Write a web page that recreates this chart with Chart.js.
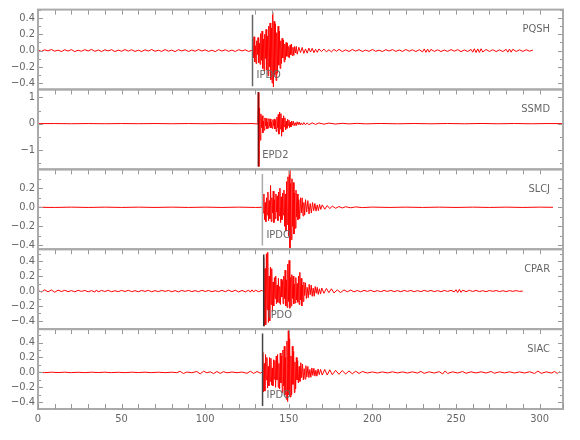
<!DOCTYPE html>
<html>
<head>
<meta charset="utf-8">
<script src="https://cdn.jsdelivr.net/npm/chart.js@4.4.1/dist/chart.umd.min.js"></script>
<style>
  html, body { margin: 0; padding: 0; background: #fff; }
</style>
</head>
<body>
<canvas id="seis" width="580" height="440"></canvas>
<script>
// stations, top panel first
const stations = ['PQSH', 'SSMD', 'SLCJ', 'CPAR', 'SIAC'];
// amplitude range shown in each panel
const yMin = [-0.48, -1.74, -0.44, -0.51, -0.49];
const yMax = [0.505, 1.30, 0.398, 0.56, 0.58];
const yStep = [0.1, 0.5, 0.1, 0.1, 0.1];
const yLabelStep = [0.2, 1, 0.2, 0.2, 0.2];
const xMax = 314;
const xStep = 10;
const xLabelStep = 50;

// phase picks (time, label, extent of marker)
const pickTimes = [128.3, 131.8, 134.2, 135.0, 134.3];
const pickNames = ['IPDO', 'EPD2', 'IPDO', 'IPDO', 'IPDO'];
const pickTop = [0.44, 1.2, 0.35, 0.49, 0.52];
const pickBottom = [-0.44, -1.63, -0.40, -0.47, -0.45];

// traces: [time (s), amplitude]
const pqsh = [
  [0,0.006],[2,-0.011],[4,0.009],[6,-0.004],[8,0.013],[10,-0.008],[12,0.005],[14,-0.012],[16,0.01],[18,-0.006],
  [20,0.012],[22,-0.013],[24,0.004],[26,-0.009],[28,0.011],[30,-0.005],[32,0.014],[34,-0.01],[36,0.007],[38,-0.012],
  [40,0.009],[42,-0.004],[44,0.011],[46,-0.013],[48,0.006],[50,-0.009],[52,0.012],[54,-0.007],[56,0.01],[58,-0.011],
  [60,0.005],[62,-0.012],[64,0.009],[66,-0.006],[68,0.013],[70,-0.009],[72,0.004],[74,-0.011],[76,0.012],[78,-0.008],
  [80,0.006],[82,-0.013],[84,0.011],[86,-0.005],[88,0.01],[90,-0.012],[92,0.007],[94,-0.009],[96,0.013],[98,-0.006],
  [100,0.009],[102,-0.011],[104,0.005],[106,-0.013],[108,0.012],[110,-0.007],[112,0.01],[114,-0.01],[116,0.006],[118,-0.012],
  [120,0.011],[122,-0.005],[124,0.009],[126,-0.011],[128,0.004],
  [128.4,0.15],[128.8,-0.09],[129.2,0.17],[129.6,-0.14],[130,0.06],[130.4,-0.16],[130.8,0.12],[131.2,-0.05],[131.6,0.16],[132,-0.15],
  [132.4,0.09],[132.8,-0.17],[133.2,0.21],[133.6,-0.12],[134,0.24],[134.4,-0.22],[134.8,0.14],[135.2,-0.25],[135.6,0.2],[136,-0.1],
  [136.4,0.26],[136.8,-0.24],[137.2,0.18],[137.6,-0.31],[138,0.3],[138.4,-0.2],[138.8,0.34],[139.2,-0.36],[139.6,0.28],[140,-0.4],
  [140.4,0.47],[140.8,-0.45],[141.2,0.36],[141.6,-0.3],[142,0.33],[142.4,-0.37],[142.8,0.22],[143.2,-0.28],[143.6,0.3],[144,-0.18],
  [144.4,0.24],[144.8,-0.22],[145.2,0.12],[145.6,-0.16],[146,0.15],[146.4,-0.09],[146.8,0.13],[147.2,-0.14],[147.6,0.08],[148,-0.11],
  [148.4,0.1],[148.8,-0.07],[149.2,0.09],[149.6,-0.08],[150,0.05],[150.4,-0.09],[150.8,0.07],[151.2,-0.05],[151.6,0.08],[152,-0.06],
  [152.5,0.04],[153,-0.06],[153.5,0.05],[154,-0.03],[154.5,0.05],[155,-0.045],
  [156,0.04],[157,-0.025],[158,0.038],[159,-0.035],[160,0.02],[161,-0.032],[162,0.03],[163,-0.018],[164,0.028],[165,-0.026],
  [166,0.015],[167,-0.022],[168,0.02],[169.5,-0.012],[171,0.018],[172.5,-0.016],[174,0.01],[175.5,-0.016],[177,0.014],[178.5,-0.009],
  [180,0.015],[182,-0.013],[184,0.009],[186,-0.012],[188,0.013],[190,-0.007],[192,0.011],[194,-0.012],[196,0.006],[198,-0.01],
  [200,0.013],[202,-0.009],[204,0.005],[206,-0.012],[208,0.011],[210,-0.006],[212,0.012],[214,-0.01],[216,0.007],[218,-0.011],
  [220,0.013],[222,-0.008],[224,0.009],[226,-0.012],[228,0.01],[230,-0.016],[231,0.02],[232,-0.022],[233,0.018],[234,-0.02],
  [235,0.015],[237,-0.011],[239,0.009],[241,-0.012],[243,0.006],[245,-0.01],[247,0.012],[249,-0.008],[251,0.011],[253,-0.013],
  [255,0.007],[257,-0.011],[259,0.014],[260,-0.02],[261,0.022],[262,-0.025],[263,0.02],[264,-0.023],[265,0.022],[266,-0.018],
  [268,0.013],[270,-0.011],[272,0.01],[274,-0.012],[276,0.008],[278,-0.012],[280,0.015],[281,-0.02],[282,0.018],[283,-0.02],
  [284,0.016],[286,-0.012],[288,0.009],[290,-0.011],[292,0.01],[294,-0.008],[296,0.006]
];
const ssmd = [
  [0,0],[10,0.004],[20,-0.004],[30,0.003],[40,-0.004],[50,0.004],[60,-0.003],[70,0.004],[80,-0.004],[90,0.003],
  [100,-0.004],[110,0.004],[120,-0.003],[128,0.004],[131,-0.01],
  [131.5,0.05],[131.8,1.18],[132.1,-1.63],[132.5,0.6],[132.9,-0.63],[133.3,0.37],[133.7,-0.15],[134.1,0.3],[134.5,-0.35],[134.9,0.1],
  [135.3,-0.25],[135.7,0.22],[136.1,-0.08],[136.5,0.2],[136.9,-0.2],[137.3,0.06],[137.7,-0.17],[138.1,0.19],[138.5,-0.1],[138.9,0.18],
  [139.3,-0.16],[139.7,0.05],[140.1,-0.18],[140.5,0.15],[140.9,-0.08],[141.3,0.18],[141.7,-0.2],[142.1,0.12],[142.5,-0.3],[142.9,0.25],
  [143.3,-0.15],[143.7,0.35],[144.1,-0.4],[144.5,0.44],[144.9,-0.2],[145.3,0.38],[145.7,-0.48],[146.1,0.2],[146.5,-0.32],[146.9,0.3],
  [147.3,-0.12],[147.7,0.22],[148.1,-0.24],[148.5,0.1],[148.9,-0.18],[149.3,0.17],[149.7,-0.08],[150.1,0.13],[150.5,-0.15],[150.9,0.06],
  [151.3,-0.12],[151.7,0.1],[152.2,-0.06],[152.7,0.09],[153.2,-0.08],[153.8,0.04],[154.4,-0.08],[155,0.07],[155.6,-0.04],[156.2,0.06],
  [156.8,-0.05],[157.5,0.03],[158.2,-0.05],[159,0.04],[160,-0.045],[161,0.03],[162,-0.04],[164,0.03],[166,-0.03],[168,0.025],
  [171,-0.02],[174,0.02],[178,-0.015],[182,0.012],[186,-0.01],[191,0.01],[196,-0.008],[205,0.006],[215,-0.006],[225,0.005],
  [235,-0.006],[245,0.005],[255,-0.005],[265,0.006],[275,-0.005],[285,0.005],[295,-0.005],[305,0.004],[314,0]
];
const slcj = [
  [0,0],[10,-0.0015],[20,0.0015],[30,-0.0015],[40,0.0015],[50,-0.0015],[60,0.0015],[70,-0.0015],[80,0.0015],[90,-0.0015],
  [100,0.0015],[110,-0.0015],[120,0.0015],[130,-0.0015],[134,0],
  [134.3,0.12],[134.7,-0.06],[135.1,0.14],[135.5,-0.13],[135.9,0.05],[136.3,-0.15],[136.7,0.1],[137.1,-0.08],[137.5,0.16],[137.9,-0.14],
  [138.3,0.07],[138.7,-0.12],[139.1,0.23],[139.5,-0.15],[139.9,0.1],[140.3,-0.06],[140.7,0.17],[141.1,-0.16],[141.5,0.08],[141.9,-0.12],
  [142.3,0.14],[142.7,-0.05],[143.1,0.12],[143.5,-0.14],[143.9,0.16],[144.3,-0.09],[144.7,0.2],[145.1,-0.16],[145.5,0.11],[145.9,-0.13],
  [146.3,0.15],[146.7,-0.08],[147.1,0.18],[147.5,-0.2],[147.9,0.14],[148.3,-0.25],[148.7,0.27],[149.1,-0.18],[149.5,0.32],[149.9,-0.3],
  [150.3,0.39],[150.7,-0.43],[151.1,0.25],[151.5,-0.34],[151.9,0.3],[152.3,-0.2],[152.7,0.26],[153.1,-0.28],[153.5,0.15],[153.9,-0.22],
  [154.3,0.18],[154.7,-0.1],[155.1,0.14],[155.5,-0.13],[156,0.08],[156.5,-0.12],[157,0.1],[157.5,-0.06],[158,0.1],[158.5,-0.09],
  [159,0.05],[159.5,-0.08],[160,0.08],[160.7,-0.05],[161.4,0.07],[162.1,-0.07],[162.8,0.04],[163.5,-0.06],[164.2,0.05],[164.9,-0.035],
  [165.6,0.04],[166.3,-0.04],[167,0.025],[167.7,-0.035],[168.4,0.03],[169.1,-0.022],[170,0.026],[171.5,-0.02],[173,0.018],[174.5,-0.014],
  [176,0.012],[178,-0.01],[180,0.008],[182,-0.007],[184,0.006],[187,-0.005],[190,0.004],[194,-0.003],
  [200,0.002],[210,-0.0015],[220,0.0015],[230,-0.0015],[240,0.0015],[250,-0.0015],[260,0.0015],[270,-0.0015],[280,0.0015],[290,-0.0015],
  [300,0.0015],[308,0]
];
const cpar = [
  [0,0.01],[2,-0.014],[4,0.016],[6,-0.011],[8,0.015],[10,-0.016],[12,0.012],[14,-0.007],[16,0.01],[18,-0.008],
  [20,0.006],[22,-0.01],[24,0.009],[26,-0.005],[28,0.008],[30,-0.01],[32,0.006],[34,-0.014],[35,0.015],[36,-0.012],
  [38,0.008],[40,-0.006],[42,0.009],[44,-0.01],[46,0.005],[48,-0.008],[50,0.009],[52,-0.006],[54,0.01],[56,-0.008],
  [58,0.005],[60,-0.009],[62,0.008],[64,-0.005],[66,0.009],[68,-0.01],[70,0.006],[72,-0.008],[74,0.009],[76,-0.005],
  [78,0.008],[80,-0.009],[82,0.006],[84,-0.01],[86,0.008],[88,-0.005],[90,0.009],[92,-0.008],[94,0.006],[96,-0.009],
  [98,0.01],[100,-0.006],[102,0.008],[104,-0.009],[106,0.005],[108,-0.008],[110,0.01],[112,-0.009],[114,0.012],[116,-0.008],
  [118,0.011],[120,-0.012],[122,0.008],[124,-0.011],[126,0.012],[127,-0.015],[128,0.016],[129,-0.013],[130,0.012],[132,-0.009],
  [134,0.01],[134.8,-0.01],
  [135,0.45],[135.4,-0.47],[135.8,0.3],[136.2,-0.45],[136.6,0.5],[137,-0.25],[137.4,0.52],[137.8,-0.42],[138.2,0.2],[138.6,-0.4],
  [139,0.32],[139.4,-0.18],[139.8,0.3],[140.2,-0.28],[140.6,0.12],[141,-0.2],[141.4,0.18],[141.8,-0.1],[142.2,0.2],[142.6,-0.17],
  [143,0.08],[143.4,-0.15],[143.8,0.17],[144.2,-0.16],[144.6,0.06],[145,-0.18],[145.4,0.16],[145.8,-0.08],[146.2,0.14],[146.6,-0.17],
  [147,0.2],[147.4,-0.1],[147.8,0.28],[148.2,-0.2],[148.6,0.15],[149,-0.22],[149.4,0.36],[149.8,-0.14],[150.2,0.41],[150.6,-0.23],
  [151,0.18],[151.4,-0.2],[151.8,0.22],[152.2,-0.1],[152.6,0.2],[153,-0.17],[153.4,0.09],[153.8,-0.16],[154.2,0.18],[154.6,-0.12],
  [155,0.1],[155.4,-0.15],[155.8,0.2],[156.2,-0.18],[156.6,0.25],[157,-0.12],[157.4,0.17],[157.8,-0.2],[158.2,0.08],[158.6,-0.14],
  [159,0.12],[159.5,-0.06],[160,0.11],[160.5,-0.1],[161,0.05],[161.6,-0.09],[162.2,0.09],[162.8,-0.05],[163.4,0.08],[164,-0.07],
  [164.6,0.04],[165.2,-0.07],[165.8,0.06],[166.4,-0.03],[167,0.05],[167.6,-0.045],[168.3,0.03],[169,-0.04],[169.7,0.04],[171,-0.03],
  [172.5,0.035],[174,-0.022],[175.5,0.03],[177,-0.025],[179,0.015],[181,-0.02],[183,0.015],[185,-0.01],[187,0.013],[189,-0.011],
  [191,0.007],[193,-0.01],[195,0.009],[197,-0.005],[199,0.01],[201,-0.009],[203,0.006],[205,-0.009],[207,0.008],[209,-0.005],
  [211,0.009],[213,-0.008],[215,0.006],[217,-0.009],[219,0.008],[221,-0.005],[223,0.008],[225,-0.009],[227,0.006],[229,-0.008],
  [231,0.009],[233,-0.005],[235,0.008],[237,-0.008],[239,0.006],[241,-0.009],[243,0.008],[245,-0.005],[247,0.009],[249,-0.012],
  [250,0.018],[251,-0.02],[252,0.022],[253,-0.018],[254,0.012],[256,-0.008],[258,0.009],[260,-0.005],[262,0.008],[264,-0.007],
  [266,0.005],[268,-0.008],[270,0.007],[272,-0.004],[274,0.007],[276,-0.007],[278,0.004],[280,-0.007],[282,0.006],[284,-0.004],
  [286,0.006],[288,-0.005],[290,0]
];
const siac = [
  [0,0.002],[4,-0.003],[8,0.003],[12,-0.002],[16,0.003],[20,-0.003],[24,0.002],[28,-0.003],[32,0.003],[36,-0.002],
  [40,0.003],[44,-0.003],[48,0.002],[52,-0.003],[56,0.003],[60,-0.002],[64,0.003],[68,-0.003],[72,0.003],[76,-0.003],
  [80,0.003],[83,-0.004],[85,0.014],[87,-0.015],[89,0.005],[92,-0.004],[95,0.012],[97,-0.02],[99,0.016],[101,-0.005],
  [103,0.008],[105,-0.016],[107,0.012],[109,-0.013],[111,0.01],[113,-0.005],[116,0.005],[119,-0.004],[122,0.005],[125,-0.012],
  [127,0.016],[129,-0.014],[131,0.012],[133,-0.01],[134.2,0.005],
  [134.5,0.27],[134.9,-0.26],[135.3,0.12],[135.7,-0.25],[136.1,0.24],[136.5,-0.1],[136.9,0.2],[137.3,-0.21],[137.7,0.08],[138.1,-0.18],
  [138.5,0.2],[138.9,-0.12],[139.3,0.19],[139.7,-0.17],[140.1,0.06],[140.5,-0.18],[140.9,0.17],[141.3,-0.09],[141.7,0.16],[142.1,-0.2],
  [142.5,0.22],[142.9,-0.1],[143.3,0.24],[143.7,-0.2],[144.1,0.12],[144.5,-0.22],[144.9,0.26],[145.3,-0.14],[145.7,0.22],[146.1,-0.27],
  [146.5,0.3],[146.9,-0.18],[147.3,0.35],[147.7,-0.3],[148.1,0.2],[148.5,-0.36],[148.9,0.42],[149.3,-0.39],[149.7,0.56],[150.1,-0.3],
  [150.5,0.45],[150.9,-0.33],[151.3,0.22],[151.7,-0.3],[152.1,0.35],[152.5,-0.16],[152.9,0.28],[153.3,-0.27],[153.7,0.14],[154.1,-0.22],
  [154.5,0.2],[154.9,-0.1],[155.3,0.16],[155.7,-0.14],[156.2,0.08],[156.7,-0.12],[157.2,0.13],[157.7,-0.07],[158.2,0.11],[158.7,-0.1],
  [159.2,0.05],[159.7,-0.09],[160.2,0.09],[160.8,-0.06],[161.4,0.08],[162,-0.07],[162.6,0.04],[163.2,-0.065],[163.8,0.06],[164.4,-0.04],
  [165,0.055],[165.6,-0.05],[166.2,0.03],[166.8,-0.05],[167.5,0.045],[168.2,-0.03],[169,0.04],[170,-0.035],[171.5,0.04],[173,-0.035],
  [174.5,0.035],[176,-0.03],[178,0.028],[180,-0.025],[182,0.025],[184,-0.022],[186,0.02],[188,-0.018],[190,0.016],[192,-0.014],
  [194,0.012],[197,-0.008],[200,0.007],[203,-0.008],[206,0.007],[209,-0.007],[212,0.008],[215,-0.007],[218,0.007],[221,-0.008],
  [224,0.008],[227,-0.009],[229,0.013],[231,-0.012],[234,0.008],[237,-0.008],[240,0.01],[242,-0.02],[243.5,0.02],[245,-0.014],
  [248,0.008],[251,-0.008],[254,0.012],[256,-0.012],[259,0.008],[262,-0.007],[265,0.008],[268,-0.008],[271,0.012],[273,-0.011],
  [276,0.008],[279,-0.007],[282,0.008],[285,-0.008],[288,0.007],[291,-0.008],[294,0.009],[297,-0.014],[299,0.018],[301,-0.013],
  [304,0.008],[307,-0.008],[309,0.012],[310.5,-0.014],[312,0.01]
];
const traces = [pqsh, ssmd, slcj, cpar, siac];

const pickColors = ['#666666', '#7a1010', '#aaaaaa', '#333333', '#444444'];
const fontFam = "'Liberation Sans Narrow', 'DejaVu Sans Condensed', sans-serif";
const textColor = '#666666';

function fmtTick(v, step) {
    const k = v / step;
    if (Math.abs(k - Math.round(k)) > 1e-6) return '';
    if (Math.abs(v) < 1e-9) return step < 1 ? '0.0' : '0';
    const s = step < 1 ? Math.abs(v).toFixed(1) : String(Math.abs(Math.round(v)));
    return (v < 0 ? '\u2212' : '') + s;
}

// frame, inward tick marks and the text labels
const framePlugin = {
    id: 'frame',
    afterDraw(chart) {
        const ctx = chart.ctx;
        const area = chart.chartArea;
        const xs = chart.scales.x;
        ctx.save();
        ctx.font = '11px ' + fontFam;
        stations.forEach(function (name, i) {
            const ys = chart.scales['y' + i];
            ctx.strokeStyle = '#999999';
            ctx.lineWidth = 1;
            ctx.beginPath();
            xs.ticks.forEach(function (t) {
                const px = Math.round(xs.getPixelForValue(t.value)) + 0.5;
                ctx.moveTo(px, ys.top);
                ctx.lineTo(px, ys.top + 5);
            });
            ys.ticks.forEach(function (t) {
                const py = Math.round(ys.getPixelForValue(t.value)) + 0.5;
                const len = t.label !== '' ? 5 : 3;
                ctx.moveTo(area.left, py);
                ctx.lineTo(area.left + len, py);
                ctx.moveTo(area.right, py);
                ctx.lineTo(area.right - len, py);
            });
            ctx.stroke();

            ctx.strokeStyle = '#aaaaaa';
            ctx.lineWidth = 2;
            ctx.strokeRect(area.left, ys.top, area.right - area.left, ys.bottom - ys.top);

            ctx.fillStyle = textColor;
            ctx.textBaseline = 'middle';
            ctx.textAlign = 'right';
            ctx.fillText(name, area.right - 13, ys.top + 20);
            ctx.textAlign = 'left';
            ctx.fillText(pickNames[i], xs.getPixelForValue(pickTimes[i]) + 4, ys.bottom - 14);
        });
        // ticks along the bottom axis
        const last = chart.scales['y' + (stations.length - 1)];
        ctx.strokeStyle = '#999999';
        ctx.lineWidth = 1;
        ctx.beginPath();
        xs.ticks.forEach(function (t) {
            const px = Math.round(xs.getPixelForValue(t.value)) + 0.5;
            ctx.moveTo(px, last.bottom);
            ctx.lineTo(px, last.bottom - 5);
        });
        ctx.stroke();
        ctx.restore();
    }
};

const scales = {
    x: {
        type: 'linear', position: 'bottom', min: 0, max: xMax,
        grid: { display: false, drawTicks: false }, border: { display: false },
        ticks: {
            stepSize: xStep, autoSkip: false, maxRotation: 0, padding: 4, color: textColor,
            font: { family: fontFam, size: 11 },
            callback: function (v) { return Math.round(v) % xLabelStep === 0 ? String(Math.round(v)) : ''; }
        },
        afterFit: function (s) { s.height = 31; }
    }
};
// stacked axes are placed bottom-up, so add the lowest panel first
for (let i = stations.length - 1; i >= 0; i--) {
    scales['y' + i] = {
        type: 'linear', position: 'left', stack: 'traces', stackWeight: 1,
        min: yMin[i], max: yMax[i],
        grid: { display: false, drawTicks: false }, border: { display: false },
        ticks: {
            stepSize: yStep[i], autoSkip: false, includeBounds: false, padding: 3, color: textColor,
            font: { family: fontFam, size: 11 },
            callback: function (v) { return fmtTick(v, yLabelStep[i]); }
        },
        afterFit: function (s) { s.width = 38; }
    };
}

const datasets = [];
stations.forEach(function (name, i) {
    datasets.push({
        label: name,
        data: traces[i],
        yAxisID: 'y' + i,
        borderColor: '#ff0000',
        borderWidth: 1,
        pointRadius: 0,
        tension: 0,
        order: 1
    });
    datasets.push({
        label: pickNames[i],
        data: [[pickTimes[i], pickTop[i]], [pickTimes[i], pickBottom[i]]],
        yAxisID: 'y' + i,
        borderColor: pickColors[i],
        borderWidth: 1.5,
        pointRadius: 0,
        order: 0
    });
});

new Chart(document.getElementById('seis').getContext('2d'), {
    type: 'line',
    data: { datasets: datasets },
    options: {
        responsive: false,
        animation: false,
        layout: { padding: { left: 0, right: 17, top: 5, bottom: 0 } },
        plugins: { legend: { display: false }, tooltip: { enabled: false } },
        scales: scales
    },
    plugins: [framePlugin]
});
</script>
</body>
</html>
